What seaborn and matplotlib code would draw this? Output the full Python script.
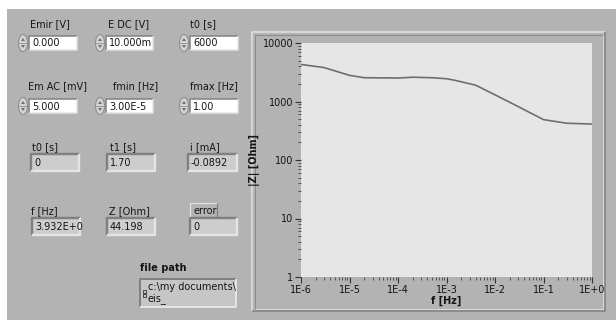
import matplotlib
matplotlib.use("Agg")
import matplotlib.pyplot as plt
import matplotlib.patches as mpatches
import matplotlib.ticker as mticker
import numpy as np
import pandas as pd
import seaborn as sns

# ---- data ----
freq_hz = [1e-6, 3e-6, 1e-5, 2e-5, 1e-4, 2e-4, 5e-4, 1e-3, 1.5e-3, 4e-3,
           1e-2, 3e-2, 1e-1, 3e-1, 1.0]
z_ohm = [4300, 3800, 2800, 2550, 2520, 2600, 2550, 2450, 2300, 1900,
         1300, 820, 490, 425, 412]
x_tick_vals = [1e-6, 1e-5, 1e-4, 1e-3, 1e-2, 1e-1, 1.0]
x_tick_labels = ["1E-6", "1E-5", "1E-4", "1E-3", "1E-2", "1E-1", "1E+0"]
y_tick_vals = [1, 10, 100, 1000, 10000]
y_tick_labels = ["1", "10", "100", "1000", "10000"]

control_labels = ["Emir [V]", "E DC [V]", "t0 [s]", "Em AC [mV]", "fmin [Hz]", "fmax [Hz]"]
control_values = ["0.000", "10.000m", "6000", "5.000", "3.00E-5", "1.00"]
indicator_labels = ["t0 [s]", "t1 [s]", "i [mA]", "f [Hz]", "Z [Ohm]", "error"]
indicator_values = ["0", "1.70", "-0.0892", "3.932E+0", "44.198", "0"]
path_label = "file path"
path_lines = ["c:\\my documents\\", "eis_"]

sns.set_theme(style="white")
plt.rcParams["font.family"] = ["DejaVu Sans"]

W, H = 616, 320
fig = plt.figure(figsize=(W / 100, H / 100), dpi=100, facecolor="white")
bg = fig.add_axes([0, 0, 1, 1], zorder=0)
bg.set_xlim(0, W)
bg.set_ylim(H, 0)
bg.axis("off")

PANEL = "#b3b3b3"
DARK = "#808080"
LIGHT = "#e4e4e4"
TXT = "#151515"
PX = 0.72  # one pixel in points

bg.add_patch(mpatches.Rectangle((7, 9), W - 7, H - 9, facecolor=PANEL, edgecolor="none"))


def bevel(x0, y0, x1, y1, fill, sunken=True, lw=1.5):
    bg.add_patch(mpatches.Rectangle((x0, y0), x1 - x0, y1 - y0, facecolor=fill, edgecolor="none"))
    tl, br = (DARK, LIGHT) if sunken else (LIGHT, DARK)
    bg.plot([x0, x0, x1], [y1, y0, y0], color=tl, lw=lw * PX, solid_capstyle="butt")
    bg.plot([x0, x1, x1], [y1, y1, y0], color=br, lw=lw * PX, solid_capstyle="butt")


def spinner(x, y0, y1):
    cy = (y0 + y1) / 2
    bg.add_patch(mpatches.Ellipse((x, cy), 9, y1 - y0 + 3, facecolor="#d4d4d4",
                                  edgecolor="#8f8f8f", lw=0.8))
    bg.plot([x - 4, x + 4], [cy, cy], color="#8f8f8f", lw=0.6)
    bg.add_patch(mpatches.Polygon([(x - 2, cy - 2), (x + 2, cy - 2), (x, cy - 5)],
                                  facecolor="#707070", edgecolor="none"))
    bg.add_patch(mpatches.Polygon([(x - 2, cy + 2), (x + 2, cy + 2), (x, cy + 5)],
                                  facecolor="#707070", edgecolor="none"))


FS = 7
# controls (white boxes with spinners)
ctrl_boxes = [(29, 77), (106, 153), (190, 238)]
ctrl_label_x = [30, 108, 190, 28, 113, 190]
ctrl_rows = [(24, 36, 50), (86, 99, 113)]
for i, (lab, val) in enumerate(zip(control_labels, control_values)):
    r, c = divmod(i, 3)
    ly, by0, by1 = ctrl_rows[r]
    bx0, bx1 = ctrl_boxes[c]
    bg.text(ctrl_label_x[i], ly, lab, fontsize=FS, color=TXT, va="center", ha="left")
    spinner(bx0 - 6, by0, by1)
    bevel(bx0, by0, bx1, by1, "white", sunken=True)
    bg.text(bx0 + 3, (by0 + by1) / 2 + 0.5, val, fontsize=FS, color=TXT, va="center", ha="left")

# indicators (gray recessed boxes)
ind_boxes = [[(31, 79), (107, 155), (188, 237)], [(32, 80), (107, 155), (190, 237)]]
ind_label_x = [32, 110, 190, 31, 109, 193]
ind_rows = [(147, 154, 171), (211, 218, 235)]
for i, (lab, val) in enumerate(zip(indicator_labels, indicator_values)):
    r, c = divmod(i, 3)
    ly, by0, by1 = ind_rows[r]
    bx0, bx1 = ind_boxes[r][c]
    if lab == "error":
        bevel(190, 203, 217, 217, PANEL, sunken=False, lw=1.2)
    bg.text(ind_label_x[i], ly, lab, fontsize=FS, color=TXT, va="center", ha="left")
    bevel(bx0, by0, bx1, by1, "#cdcdcd", sunken=True, lw=2.4)
    t = bg.text(bx0 + 3, (by0 + by1) / 2 + 0.5, val, fontsize=FS, color=TXT,
                va="center", ha="left")
    clip = mpatches.Rectangle((bx0, by0), bx1 - bx0 - 2, by1 - by0, transform=bg.transData)
    t.set_clip_path(clip)

# file path
bg.text(140, 268, path_label, fontsize=FS, fontweight="bold", color=TXT, va="center", ha="left")
bevel(140, 279, 236, 307, "#c6c6c6", sunken=True, lw=2.0)
bg.add_patch(mpatches.Rectangle((142.5, 290), 3, 3, facecolor="none", edgecolor="#333", lw=0.6))
bg.add_patch(mpatches.Rectangle((142.5, 294), 3, 3, facecolor="none", edgecolor="#333", lw=0.6))
bg.text(148, 287, path_lines[0], fontsize=FS, color=TXT, va="center", ha="left")
bg.text(148, 299, path_lines[1], fontsize=FS, color=TXT, va="center", ha="left")

# graph frame
bevel(252, 32, 605, 311, PANEL, sunken=False, lw=1.5)
bevel(254.5, 34.5, 602.5, 308.5, PANEL, sunken=True, lw=0.8)

# ---- graph ----
L, R, T, B = 301, 592, 43, 277
ax = fig.add_axes([L / W, 1 - B / H, (R - L) / W, (B - T) / H], zorder=2)
ax.set_facecolor("#e6e6e6")
df = pd.DataFrame({"f": freq_hz, "Z": z_ohm})
sns.lineplot(data=df, x="f", y="Z", ax=ax, color="#6e6e6e", lw=1.2)
ax.set_xscale("log")
ax.set_yscale("log")
ax.set_xlim(1e-6, 1.0)
ax.set_ylim(1, 10000)
for s in ax.spines.values():
    s.set_visible(False)
ax.set_xticks(x_tick_vals)
ax.set_xticklabels(x_tick_labels)
ax.set_yticks(y_tick_vals)
ax.set_yticklabels(y_tick_labels)
ax.xaxis.set_minor_locator(mticker.LogLocator(base=10, subs=np.arange(2, 10)))
ax.yaxis.set_minor_locator(mticker.LogLocator(base=10, subs=np.arange(2, 10)))
ax.xaxis.set_minor_formatter(mticker.NullFormatter())
ax.yaxis.set_minor_formatter(mticker.NullFormatter())
ax.tick_params(axis="both", which="major", length=4, width=0.8, color="#333333",
               labelsize=7, labelcolor=TXT, pad=1.5, direction="out", bottom=True, left=True)
ax.tick_params(axis="both", which="minor", length=2, width=0.6, color="#444444",
               direction="out", bottom=True, left=True)
ax.set_xlabel("f [Hz]", fontsize=7, fontweight="bold", color=TXT, labelpad=1)
ax.set_ylabel("|Z| [Ohm]", fontsize=7, fontweight="bold", color=TXT, labelpad=2)
ax.grid(False)

fig.savefig("out.png", dpi=100, facecolor="white")
